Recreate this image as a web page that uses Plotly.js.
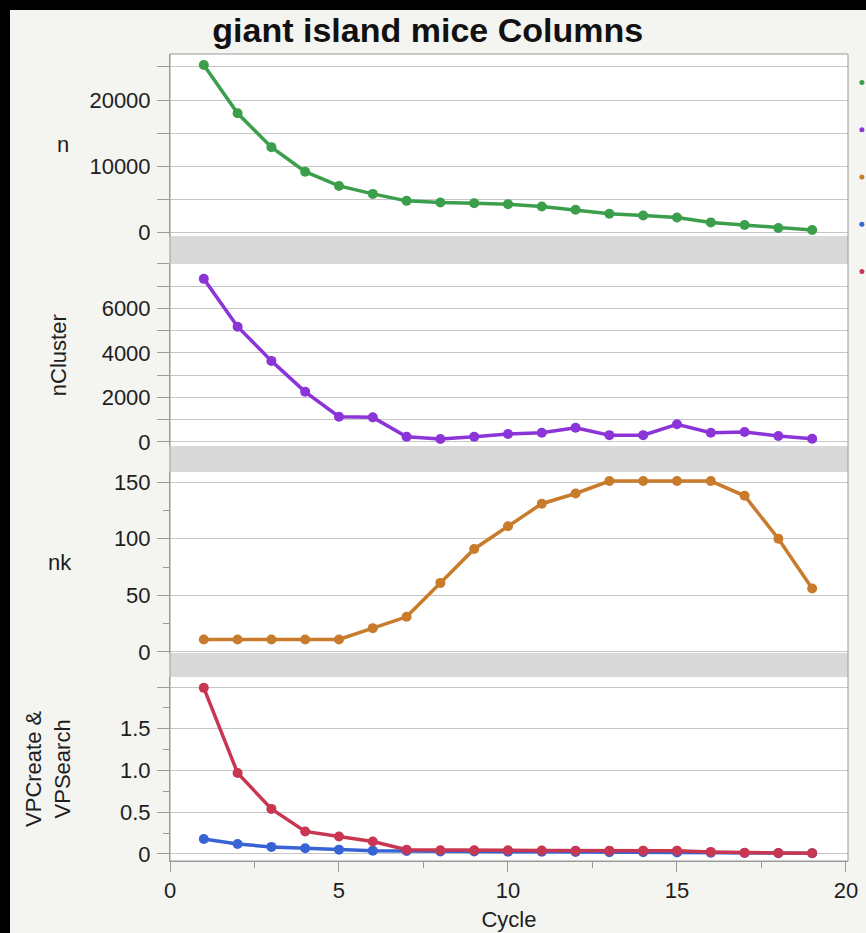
<!DOCTYPE html>
<html>
<head>
<meta charset="utf-8">
<script src="https://cdn.plot.ly/plotly-3.0.1.min.js"></script>
<style>
  html, body { margin: 0; padding: 0; background: #000; width: 866px; height: 933px; overflow: hidden; }
  #chart { position: absolute; left: 10px; top: 10px; width: 856px; height: 923px; }
</style>
</head>
<body>
<div id="chart"></div>
<script>
// Per-cycle statistics for the giant island mice run
const cycle    = [1, 2, 3, 4, 5, 6, 7, 8, 9, 10, 11, 12, 13, 14, 15, 16, 17, 18, 19];
const n        = [25300, 18000, 12900, 9200, 7050, 5850, 4800, 4550, 4450, 4300, 3950, 3450, 2850, 2600, 2300, 1550, 1150, 700, 400];
const nCluster = [7330, 5180, 3640, 2250, 1130, 1100, 230, 130, 230, 350, 410, 630, 300, 300, 790, 410, 440, 260, 140];
const nk       = [11, 11, 11, 11, 11, 21, 31, 61, 91, 111, 131, 140, 151, 151, 151, 151, 138, 100, 56];
const vpCreate = [0.18, 0.12, 0.085, 0.068, 0.052, 0.04, 0.035, 0.03, 0.03, 0.028, 0.026, 0.024, 0.022, 0.02, 0.018, 0.015, 0.012, 0.01, 0.008];
const vpSearch = [1.99, 0.97, 0.54, 0.27, 0.21, 0.15, 0.05, 0.045, 0.045, 0.045, 0.042, 0.04, 0.04, 0.04, 0.04, 0.025, 0.015, 0.012, 0.01];

const seriesNames = ['n', 'nCluster', 'nk', 'VPCreate', 'VPSearch'];
const colors = {
  n: '#3a9e4b',
  nCluster: '#8b34d8',
  nk: '#c97b2c',
  VPCreate: '#3764d4',
  VPSearch: '#c93652'
};

const FONT = 'Liberation Sans, Arial, Helvetica, sans-serif';
const TXT = '#1e1e1e';
const GRID = '#c6c6c6';
const AXIS = '#9a9a9a';

function line(x, y, axis, name) {
  return {
    x: x, y: y, yaxis: axis, xaxis: 'x',
    type: 'scatter', mode: 'lines+markers', name: name,
    showlegend: false, hoverinfo: 'x+y+name',
    line: { color: colors[name], width: 3.5 },
    marker: { color: colors[name], size: 10 }
  };
}

const traces = [
  line(cycle, n, 'y', 'n'),
  line(cycle, nCluster, 'y2', 'nCluster'),
  line(cycle, nk, 'y3', 'nk'),
  line(cycle, vpCreate, 'y4', 'VPCreate'),
  line(cycle, vpSearch, 'y4', 'VPSearch')
];

// legend entries: dot swatches only
seriesNames.forEach(function (nm) {
  traces.push({
    x: [null], y: [null], xaxis: 'x', yaxis: 'y4',
    type: 'scatter', mode: 'markers', name: nm,
    legendgroup: nm, showlegend: true,
    marker: { color: colors[nm], size: 5 }
  });
});

function yax(domain, range, tickvals, ticktext, extra) {
  return Object.assign({
    domain: domain, range: range, anchor: 'x',
    tickmode: 'array', tickvals: tickvals, ticktext: ticktext,
    ticks: 'outside', ticklen: 12, tickwidth: 1, tickcolor: AXIS,
    ticklabelstandoff: 2,
    showgrid: true, gridcolor: GRID, gridwidth: 1,
    zeroline: false, showline: true, linecolor: AXIS, linewidth: 1,
    tickfont: { family: FONT, size: 22, color: TXT },
    fixedrange: true
  }, extra || {});
}

const labelEvery = (vals, step) => vals.map(v => (v % step === 0 ? String(v) : ''));

const nTicks  = [0, 5000, 10000, 15000, 20000, 25000];
const ncTicks = [0, 1000, 2000, 3000, 4000, 5000, 6000, 7000, 8000];
const ncText  = labelEvery(ncTicks, 2000); ncText[8] = '';

const d1 = [0.7745, 1];
const d2 = [0.5142, 0.7398];
const d3 = [0.2577, 0.4820];
const d4 = [0, 0.2280];

const layout = {
  width: 856, height: 923,
  margin: { l: 160, r: 18, t: 44, b: 72, autoexpand: false },
  paper_bgcolor: '#f4f4f1',
  plot_bgcolor: '#ffffff',
  font: { family: FONT, color: TXT },
  title: {
    text: 'giant island mice Columns',
    font: { family: FONT, size: 34, weight: 'bold', color: '#111' },
    xref: 'container', yref: 'container',
    x: 0.488, xanchor: 'center', y: 0.978, yanchor: 'middle'
  },
  xaxis: {
    domain: [0, 1], range: [0, 20.06], anchor: 'y4',
    tickmode: 'array', tickvals: [0, 5, 10, 15, 20],
    ticks: 'outside', ticklen: 10, tickcolor: AXIS, tickwidth: 1,
    minor: { dtick: 2.5, ticklen: 6, tickcolor: AXIS, showgrid: false },
    showgrid: false, zeroline: false, showline: true, linecolor: AXIS,
    tickfont: { family: FONT, size: 22, color: TXT },
    title: { text: 'Cycle', font: { family: FONT, size: 22, color: TXT }, standoff: 9 },
    fixedrange: true
  },
  yaxis: yax(d1, [-500, 26950], nTicks, labelEvery(nTicks, 10000)),
  yaxis2: yax(d2, [-190, 8000], ncTicks, ncText),
  yaxis3: yax(d3, [-1, 159], [0, 50, 100, 150], ['0', '50', '100', '150'], {
    minor: { tickmode: 'array', tickvals: [25, 75, 125], ticklen: 6, tickcolor: AXIS, showgrid: false }
  }),
  yaxis4: yax(d4, [-0.084, 2.12], [0, 0.5, 1, 1.5, 2], ['0', '0.5', '1.0', '1.5', ''], {
    minor: { dtick: 0.25, ticklen: 6, tickcolor: AXIS, showgrid: false }
  }),
  showlegend: true,
  legend: {
    x: 0.991, xanchor: 'left', y: 1.0, yanchor: 'top',
    bgcolor: 'rgba(0,0,0,0)', borderwidth: 0,
    font: { family: FONT, size: 34, color: TXT },
    traceorder: 'normal', tracegroupgap: 0
  },
  shapes: [
    // separators between the stacked panels
    { type: 'rect', xref: 'paper', yref: 'paper', x0: 0, x1: 1, y0: d2[1], y1: d1[0], fillcolor: '#d9d9d9', line: { width: 0 }, layer: 'above' },
    { type: 'rect', xref: 'paper', yref: 'paper', x0: 0, x1: 1, y0: d3[1], y1: d2[0], fillcolor: '#d9d9d9', line: { width: 0 }, layer: 'above' },
    { type: 'rect', xref: 'paper', yref: 'paper', x0: 0, x1: 1, y0: d4[1], y1: d3[0], fillcolor: '#d9d9d9', line: { width: 0 }, layer: 'above' },
    // frame around the whole graph
    { type: 'rect', xref: 'paper', yref: 'paper', x0: 0, x1: 1, y0: 0, y1: 1, line: { color: AXIS, width: 1 }, layer: 'above' }
  ],
  annotations: [
    { text: 'n', xref: 'paper', yref: 'y domain', x: -0.158, y: 0.5, xanchor: 'center', yanchor: 'middle', showarrow: false, font: { family: FONT, size: 22, color: TXT } },
    { text: 'nCluster', xref: 'paper', yref: 'y2 domain', x: -0.165, y: 0.5, xanchor: 'center', yanchor: 'middle', textangle: -90, showarrow: false, font: { family: FONT, size: 22, color: TXT } },
    { text: 'nk', xref: 'paper', yref: 'y3 domain', x: -0.162, y: 0.5, xanchor: 'center', yanchor: 'middle', showarrow: false, font: { family: FONT, size: 22, color: TXT } },
    { text: 'VPCreate &amp;<br>VPSearch', xref: 'paper', yref: 'y4 domain', x: -0.18, y: 0.5, xanchor: 'center', yanchor: 'middle', textangle: -90, showarrow: false, font: { family: FONT, size: 22, color: TXT } }
  ]
};

Plotly.newPlot('chart', traces, layout, { displayModeBar: false, staticPlot: true });
</script>
</body>
</html>
